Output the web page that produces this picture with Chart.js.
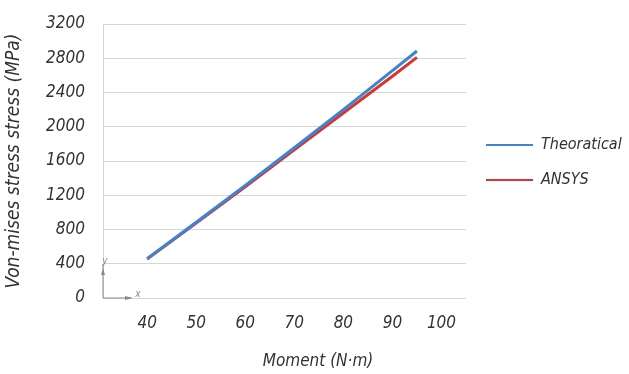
<!DOCTYPE html>
<html>
<head>
<meta charset="utf-8">
<script src="https://cdn.jsdelivr.net/npm/chart.js@4.4.1/dist/chart.umd.min.js"></script>
<style>
  html, body { margin: 0; padding: 0; background: #fff; }
  #wrap { width: 629px; height: 374px; }
</style>
</head>
<body>
<div id="wrap"><canvas id="grafica"></canvas></div>
<script>
// Datos
const momentos = [40, 50, 60, 70, 80, 90, 95];
const teorico = [460, 885, 1315, 1755, 2200, 2655, 2885];
const ansys = [455, 875, 1300, 1730, 2160, 2590, 2810];
const ticksX = [40, 50, 60, 70, 80, 90, 100];
const ticksY = [0, 400, 800, 1200, 1600, 2000, 2400, 2800, 3200];

const fuente = "'DejaVu Sans Condensed', sans-serif";
const colorTexto = "#333333";

function puntos(xs, ys) {
  return xs.map((x, i) => ({ x: x, y: ys[i] }));
}

// Leyenda, titulo del eje X y el icono de ejes (estilo CAD)
const extras = {
  id: "extras",
  afterDraw(chart) {
    const ctx = chart.ctx;
    const area = chart.chartArea;
    ctx.save();

    // leyenda
    const series = chart.data.datasets;
    ctx.font = "italic 16px " + fuente;
    ctx.textBaseline = "middle";
    ctx.textAlign = "left";
    series.forEach((ds, i) => {
      const y = area.top + 121 + i * 35;
      const x0 = area.right + 20;
      ctx.strokeStyle = ds.borderColor;
      ctx.lineWidth = 2;
      ctx.beginPath();
      ctx.moveTo(x0, y);
      ctx.lineTo(x0 + 47, y);
      ctx.stroke();
      ctx.fillStyle = colorTexto;
      ctx.fillText(ds.label, x0 + 55, y);
    });

    // titulo eje X
    ctx.textAlign = "center";
    ctx.font = "italic 17px " + fuente;
    ctx.fillText("Moment (N·m)", area.left + 215, 362);

    // icono de ejes
    ctx.strokeStyle = "#8a8a8a";
    ctx.fillStyle = "#8a8a8a";
    ctx.lineWidth = 1;
    const ox = area.left, oy = area.bottom;
    ctx.beginPath();
    ctx.moveTo(ox, oy);
    ctx.lineTo(ox, oy - 34);
    ctx.moveTo(ox, oy);
    ctx.lineTo(ox + 28, oy);
    ctx.stroke();
    ctx.beginPath();
    ctx.moveTo(ox, oy - 30);
    ctx.lineTo(ox - 2, oy - 23);
    ctx.lineTo(ox + 2, oy - 23);
    ctx.fill();
    ctx.beginPath();
    ctx.moveTo(ox + 30, oy);
    ctx.lineTo(ox + 22, oy - 2);
    ctx.lineTo(ox + 22, oy + 2);
    ctx.fill();
    ctx.font = "italic 10px " + fuente;
    ctx.fillText("y", ox + 2, oy - 37);
    ctx.fillText("x", ox + 35, oy - 4);
    ctx.restore();
  },
};

const ctxGrafica = document.getElementById("grafica").getContext("2d");

new Chart(ctxGrafica, {
  type: "line",
  data: {
    datasets: [
      {
        label: "Theoratical",
        data: puntos(momentos, teorico),
        borderColor: "#3a86d4",
        borderWidth: 3,
        pointRadius: 0,
        tension: 0,
      },
      {
        label: "ANSYS",
        data: puntos(momentos, ansys),
        borderColor: "#d9342f",
        borderWidth: 3,
        pointRadius: 0,
        tension: 0,
      },
    ],
  },
  options: {
    responsive: true,
    maintainAspectRatio: false,
    animation: false,
    layout: {
      padding: { top: 24, right: 163, bottom: 41, left: 3 },
    },
    plugins: {
      legend: { display: false },
      tooltip: { enabled: false },
    },
    scales: {
      x: {
        type: "linear",
        min: 31,
        max: 105,
        afterBuildTicks: (eje) => {
          eje.ticks = ticksX.map((v) => ({ value: v }));
        },
        afterFit: (eje) => {
          eje.height = 35;
        },
        grid: { display: false, drawTicks: false },
        border: { display: false },
        ticks: {
          padding: 15,
          color: colorTexto,
          maxRotation: 0,
          font: { family: fuente, size: 17, style: "italic" },
          callback: (v) => String(v),
        },
      },
      y: {
        min: 0,
        max: 3200,
        afterBuildTicks: (eje) => {
          eje.ticks = ticksY.map((v) => ({ value: v }));
        },
        afterFit: (eje) => {
          eje.width = 100;
          eje.paddingTop = 0;
          eje.paddingBottom = 0;
        },
        grid: { color: "#d6d6d6", lineWidth: 1, drawTicks: false },
        border: { display: true, color: "#d6d6d6", width: 1 },
        ticks: {
          padding: 18,
          color: colorTexto,
          font: { family: fuente, size: 17, style: "italic" },
          callback: (v) => String(v),
        },
        title: {
          display: true,
          text: "Von-mises stress stress (MPa)",
          color: colorTexto,
          font: { family: fuente, size: 19, style: "italic" },
          padding: { top: 0, bottom: 6 },
        },
      },
    },
  },
  plugins: [extras],
});
</script>
</body>
</html>
